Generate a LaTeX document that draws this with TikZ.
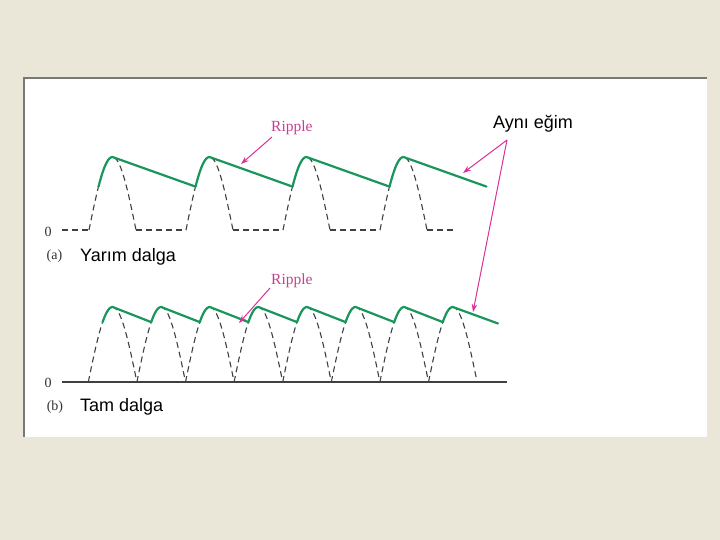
\documentclass[tikz,border=0pt]{standalone}
\usepackage{fontspec}
\setmainfont{Liberation Serif}
\newfontfamily\arialf{Liberation Sans}
\usetikzlibrary{arrows.meta}
\definecolor{bgbeige}{RGB}{235,231,216}
\definecolor{frameg}{RGB}{120,120,120}
\definecolor{wavegreen}{RGB}{25,150,92}
\definecolor{dashgray}{RGB}{64,64,64}
\definecolor{magline}{RGB}{222,48,152}
\definecolor{magtext}{RGB}{200,62,142}
\tikzset{
  dashwave/.style={draw=dashgray, line width=1.1pt, dash pattern=on 6pt off 4pt},
  envelope/.style={draw=wavegreen, line width=2.2pt, line cap=round, line join=round},
  axisline/.style={draw=dashgray, line width=1.2pt},
  magarrow/.style={draw=magline, line width=1pt, -{Stealth[length=8pt,width=5.5pt]}},
  rippletxt/.style={inner sep=0pt, anchor=base west, text=magtext, font=\fontsize{15.5}{17}\selectfont},
  serifsmall/.style={inner sep=0pt, font=\fontsize{14}{16}\selectfont, text=black!80},
  sanslbl/.style={inner sep=0pt, anchor=base west, font=\arialf\fontsize{18}{20}\selectfont},
}
\begin{document}
\begin{tikzpicture}[x=1pt,y=-1pt]
\useasboundingbox (0,0) rectangle (720,540);
\fill[bgbeige] (0,0) rectangle (720,540);
\fill[white] (24,78) rectangle (707,437);
\draw[frameg, line width=1.5pt] (24,437) -- (24,78) -- (707,78);

% ---------- (a) half wave ----------
\foreach \k in {0,...,3} {
  \pgfmathsetmacro{\s}{89+97*\k}
  \draw[dashwave] plot[domain=0:47, samples=40, smooth] ({\s+\x},{230-73*sin(180*\x/47)});
}
\draw[dashwave] (62,230) -- (89,230);
\draw[dashwave] (136,230) -- (186,230);
\draw[dashwave] (233,230) -- (283,230);
\draw[dashwave] (330,230) -- (380,230);
\draw[dashwave] (427,230) -- (455,230);
\foreach \k in {0,...,3} {
  \pgfmathsetmacro{\p}{112.5+97*\k}
  \draw[envelope] plot[domain=-14:0, samples=15, smooth] ({\p+\x},{230-73*cos(180*\x/47)}) -- ({\p+83},186.6);
}

% ---------- (b) full wave ----------
\draw[axisline] (62,382) -- (507,382);
\foreach \k in {0,...,7} {
  \pgfmathsetmacro{\s}{88.3+48.6*\k}
  \draw[dashwave] plot[domain=0:48.6, samples=40, smooth] ({\s+\x},{382-75*sin(180*\x/48.6)});
}
\foreach \k in {0,...,6} {
  \pgfmathsetmacro{\p}{112.6+48.6*\k}
  \draw[envelope] plot[domain=-10:0, samples=12, smooth] ({\p+\x},{382-75*cos(180*\x/48.6)}) -- ({\p+38.6},322.1);
}
\draw[envelope] plot[domain=-10:0, samples=12, smooth] ({452.8+\x},{382-75*cos(180*\x/48.6)}) -- (498,323.5);

% ---------- labels ----------
\node[serifsmall] (zeroa) at (48,231.5) {0};
\node[serifsmall] (la) at (54.5,256) {(a)};
\node[sanslbl] (ya) at (80,261) {Yarım dalga};
\node[serifsmall] (zerob) at (48,382.5) {0};
\node[serifsmall] (lb) at (55,407) {(b)};
\node[sanslbl] (tb) at (80,411) {Tam dalga};
\node[sanslbl] (ayni) at (493,129) {Aynı eğim};
\node[rippletxt] (ripa) at (271,132) {Ripple};
\node[rippletxt] (ripb) at (271,284) {Ripple};

% ---------- arrows ----------
\coordinate (ripaTail) at (272,137);
\coordinate (ripaTip) at (241,164);
\coordinate (ripbTail) at (270,288);
\coordinate (ripbTip) at (239,323);
\coordinate (aynTail) at (507,140);
\coordinate (aynTipA) at (463,173);
\coordinate (aynTipB) at (473,312);
\draw[magarrow] (ripaTail) -- (ripaTip);
\draw[magarrow] (ripbTail) -- (ripbTip);
\draw[magarrow] (aynTail) -- (aynTipA);
\draw[magarrow] (aynTail) -- (aynTipB);
\end{tikzpicture}
\end{document}
